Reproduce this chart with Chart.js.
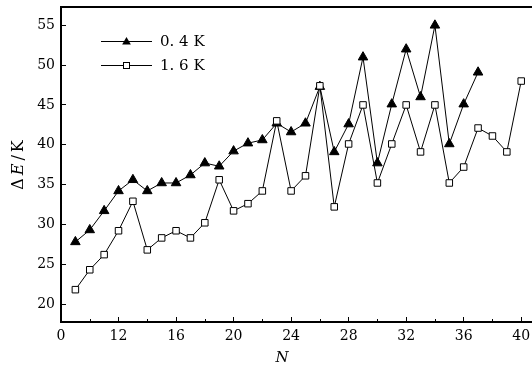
<!DOCTYPE html>
<html>
<head>
<meta charset="utf-8">
<script src="https://cdn.jsdelivr.net/npm/chart.js@4"></script>
<style>
  html, body { margin: 0; padding: 0; background: #fff; }
  canvas { display: block; }
</style>
</head>
<body>
<canvas id="chart" width="532" height="374"></canvas>
<script>
// cluster size N
const n04 = [9, 10, 11, 12, 13, 14, 15, 16, 17, 18, 19, 20, 21, 22, 23, 24, 25,
  26, 27, 28, 29, 30, 31, 32, 33, 34, 35, 36, 37];
const n16 = [9, 10, 11, 12, 13, 14, 15, 16, 17, 18, 19, 20, 21, 22, 23, 24, 25,
  26, 27, 28, 29, 30, 31, 32, 33, 34, 35, 36, 37, 38, 39, 40];

// energy gap, K
const e04 = [27.8, 29.3, 31.7, 34.2, 35.6, 34.2, 35.2, 35.2, 36.2, 37.7, 37.3,
  39.2, 40.2, 40.6, 42.7, 41.6, 42.7, 47.3, 39.1, 42.6, 51.0, 37.7, 45.1, 52.0,
  46.0, 55.0, 40.1, 45.1, 49.1];
const e16 = [21.8, 24.3, 26.2, 29.2, 32.9, 26.8, 28.3, 29.2, 28.3, 30.2, 35.6,
  31.7, 32.6, 34.2, 43.0, 34.2, 36.1, 47.4, 32.2, 40.1, 45.0, 35.2, 40.1, 45.0,
  39.1, 45.0, 35.2, 37.2, 42.1, 41.1, 39.1, 48.0];

const seriesNames = ["0. 4 K", "1. 6 K"];

const xTickValues = [8, 12, 16, 20, 24, 28, 32, 36, 40];
const xTickText = ["0", "12", "16", "20", "24", "28", "32", "36", "40"];
const xMinorTicks = [10, 14, 18, 22, 26, 30, 34, 38];

const serif = '"DejaVu Serif", "Liberation Serif", serif';

function toPoints(xs, ys) {
  return xs.map((x, i) => ({ x: x, y: ys[i] }));
}

// fixed axis sizes, no extra room for overhanging labels
function fixBox(w, h) {
  return (scale) => {
    if (w !== null) scale.width = w;
    if (h !== null) scale.height = h;
    scale.paddingLeft = 0;
    scale.paddingRight = 0;
    scale.paddingTop = 0;
    scale.paddingBottom = 0;
  };
}

function drawTriangle(ctx, x, y, r) {
  ctx.beginPath();
  ctx.moveTo(x, y - r);
  ctx.lineTo(x + r * 0.866, y + r * 0.5);
  ctx.lineTo(x - r * 0.866, y + r * 0.5);
  ctx.closePath();
  ctx.fillStyle = "#000";
  ctx.fill();
}

function drawSquare(ctx, x, y, half) {
  ctx.fillStyle = "#fff";
  ctx.fillRect(x - half, y - half, half * 2, half * 2);
  ctx.strokeStyle = "#000";
  ctx.lineWidth = 1;
  ctx.strokeRect(x - half, y - half, half * 2, half * 2);
}

// legend, axis titles and minor ticks
const extras = {
  id: "extras",
  afterDraw(chart) {
    const { ctx, chartArea: a } = chart;
    const xs = chart.scales.x;
    ctx.save();

    ctx.strokeStyle = "#000";
    ctx.lineWidth = 1;
    xMinorTicks.forEach((v) => {
      const px = Math.round(xs.getPixelForValue(v)) + 0.5;
      ctx.beginPath();
      ctx.moveTo(px, a.bottom);
      ctx.lineTo(px, a.bottom - 3);
      ctx.stroke();
    });

    seriesNames.forEach((name, i) => {
      const y = a.top + 34 + i * 24;
      const x0 = a.left + 40;
      const x1 = a.left + 91;
      ctx.strokeStyle = "#000";
      ctx.lineWidth = 1;
      ctx.beginPath();
      ctx.moveTo(x0, y + 0.5);
      ctx.lineTo(x1, y + 0.5);
      ctx.stroke();
      const cx = (x0 + x1) / 2;
      if (i === 0) drawTriangle(ctx, cx, y + 1, 5);
      else drawSquare(ctx, cx, y + 0.5, 3);
      ctx.fillStyle = "#000";
      ctx.font = "15px " + serif;
      ctx.textAlign = "left";
      ctx.textBaseline = "middle";
      ctx.fillText(name, x1 + 8, y + 1);
    });

    // x title
    ctx.font = "italic 15px " + serif;
    ctx.textAlign = "center";
    ctx.textBaseline = "middle";
    ctx.fillText("N", 282, 358);

    // y title: ΔE/K with italic E
    const parts = [
      { t: "Δ", f: "16px " + serif },
      { t: "E", f: "italic 16px " + serif },
      { t: "/", f: "16px " + serif },
      { t: "K", f: "16px " + serif },
    ];
    const gap = 3;
    let total = 0;
    parts.forEach((p) => {
      ctx.font = p.f;
      p.w = ctx.measureText(p.t).width;
      total += p.w;
    });
    total += gap * (parts.length - 1);
    ctx.translate(19, 165);
    ctx.rotate(-Math.PI / 2);
    ctx.textAlign = "left";
    let pos = -total / 2;
    parts.forEach((p) => {
      ctx.font = p.f;
      ctx.fillText(p.t, pos, 0);
      pos += p.w + gap;
    });
    ctx.restore();
  },
};

new Chart(document.getElementById("chart"), {
  type: "line",
  data: {
    datasets: [
      {
        label: seriesNames[1],
        data: toPoints(n16, e16),
        borderColor: "#000",
        borderWidth: 1,
        pointStyle: "rect",
        pointRadius: 4.6,
        pointBackgroundColor: "#fff",
        pointBorderColor: "#000",
        pointBorderWidth: 1,
        tension: 0,
        order: 0,
      },
      {
        label: seriesNames[0],
        data: toPoints(n04, e04),
        borderColor: "#000",
        borderWidth: 1,
        pointStyle: "triangle",
        pointRadius: 5.5,
        pointBackgroundColor: "#000",
        pointBorderColor: "#000",
        pointBorderWidth: 1,
        tension: 0,
        order: 1,
      },
    ],
  },
  options: {
    responsive: false,
    animation: false,
    devicePixelRatio: 1,
    layout: { padding: 0, autoPadding: false },
    plugins: {
      legend: { display: false },
      tooltip: { enabled: false },
    },
    scales: {
      x: {
        type: "linear",
        position: "bottom",
        min: 8,
        max: 40.75,
        afterFit: fixBox(null, 52),
        ticks: {
          stepSize: 4,
          includeBounds: false,
          padding: 11,
          color: "#000",
          font: { family: serif, size: 14 },
          maxRotation: 0,
          autoSkip: false,
          callback: (value) => {
            const i = xTickValues.indexOf(value);
            return i >= 0 ? xTickText[i] : "";
          },
        },
        grid: {
          display: true,
          drawOnChartArea: false,
          drawTicks: true,
          tickLength: -5,
          color: "#000",
          lineWidth: 1,
        },
        border: { display: true, color: "#000", width: 2 },
      },
      xTop: {
        type: "linear",
        position: "top",
        min: 8,
        max: 40.75,
        afterFit: fixBox(null, 7),
        ticks: { display: false },
        grid: { display: false },
        border: { display: true, color: "#000", width: 2 },
      },
      y: {
        type: "linear",
        min: 17.74,
        max: 57.3,
        afterFit: fixBox(61, null),
        ticks: {
          stepSize: 5,
          includeBounds: false,
          padding: 11,
          color: "#000",
          font: { family: serif, size: 14 },
        },
        grid: {
          display: true,
          drawOnChartArea: false,
          drawTicks: true,
          tickLength: -5,
          color: "#000",
          lineWidth: 1,
        },
        border: { display: true, color: "#000", width: 2 },
      },
    },
  },
  plugins: [extras],
});
</script>
</body>
</html>
